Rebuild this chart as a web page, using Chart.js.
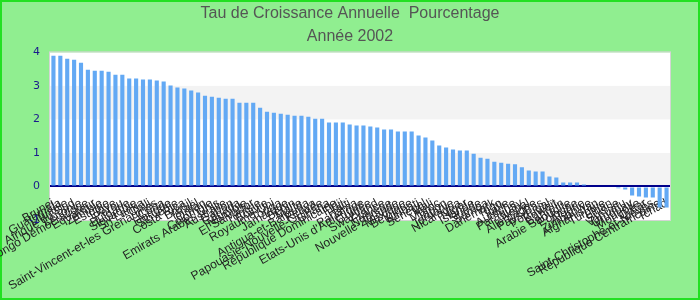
<!DOCTYPE html>
<html>
<head>
<meta charset="utf-8">
<script src="https://cdn.jsdelivr.net/npm/chart.js@4"></script>
<style>
  body { margin: 0; }
  #wrap { width: 700px; height: 300px; }
</style>
</head>
<body>
<div id="wrap"><canvas id="growthChart"></canvas></div>
<script>
// Pays, classés par taux de croissance (Année 2002)
const countries = [
    "Brunei", "Guatemala", "Lituanie", "Afrique du Sud", "Lettonie",
    "Congo Démocratique", "Equateur", "Zambie", "Estonie", "Libye",
    "Pérou", "Bulgarie", "Slovaquie", "Sri Lanka", "Chili",
    "Saint-Vincent-et-les Grenadines", "Cuba", "Hongrie", "Slovénie", "Costa Rica",
    "Brésil", "Israël", "Oman", "Colombie", "Emirats Arabes Unis",
    "Australie", "Gabon", "Canada", "Namibie", "El Salvador",
    "Tunisie", "Bolivie", "Royaume-Uni", "Tonga", "Jamaïque",
    "Bénin", "Malte", "Antigua-et-Barbuda", "Kenya", "Papouasie-Nouvelle-Guinée",
    "Ghana", "République Dominicaine", "Fidji", "Haïti", "Panama",
    "Etats-Unis d'Amérique", "Guinée", "Swaziland", "France", "Norvège",
    "Nouvelle-Zélande", "Mexique", "Belgique", "Kiribati", "Sénégal",
    "Mali", "Maroc", "Japon", "Jordanie", "Nicaragua",
    "Niger", "Islande", "Suède", "Samoa", "Danemark",
    "Togo", "Italie", "Autriche", "Paraguay", "Népal",
    "Allemagne", "Pays-Bas", "Portugal", "Koweït", "Bahreïn",
    "Arabie Saoudite", "Pologne", "Algérie", "Zimbabwe", "Afghanistan",
    "Turquie", "Liban", "Suisse", "Vanuatu", "Uruguay",
    "Mongolie", "Qatar", "Saint-Christophe-et-Niévès", "République Centrafricaine", "Tchad"
];

// Taux de croissance annuelle (%)
const growthRates = [
    3.90, 3.90, 3.81, 3.78, 3.69, 3.48, 3.45, 3.45, 3.42, 3.33,
    3.33, 3.22, 3.22, 3.19, 3.19, 3.16, 3.13, 3.01, 2.95, 2.92,
    2.86, 2.80, 2.71, 2.68, 2.65, 2.62, 2.62, 2.50, 2.50, 2.50,
    2.35, 2.23, 2.20, 2.17, 2.14, 2.11, 2.11, 2.08, 2.02, 2.02,
    1.91, 1.91, 1.91, 1.85, 1.82, 1.82, 1.79, 1.76, 1.70, 1.70,
    1.64, 1.64, 1.64, 1.52, 1.46, 1.37, 1.22, 1.16, 1.10, 1.07,
    1.07, 0.98, 0.86, 0.83, 0.74, 0.71, 0.68, 0.66, 0.57, 0.48,
    0.45, 0.45, 0.30, 0.27, 0.12, 0.12, 0.12, 0.06, 0, 0,
    0, 0, -0.05, -0.09, -0.27, -0.30, -0.33, -0.33, -0.63, -0.63
];

const yTicks = [-1, 0, 1, 2, 3, 4];
const titleLines = ["Tau de Croissance Annuelle  Pourcentage", "Année 2002"];

// Background, alternating bands and plot border
const backgroundPlugin = {
    id: "backgroundPlugin",
    beforeDraw(chart) {
        const ctx = chart.ctx;
        const area = chart.chartArea;
        const y = chart.scales.y;
        ctx.save();
        ctx.fillStyle = "#90ee90";
        ctx.fillRect(0, 0, chart.width, chart.height);
        ctx.strokeStyle = "#22e022";
        ctx.lineWidth = 2;
        ctx.strokeRect(1, 1, chart.width - 2, chart.height - 2);

        ctx.fillStyle = "#ffffff";
        ctx.fillRect(area.left, area.top, area.width, area.height);
        ctx.fillStyle = "#f3f3f3";
        [[3, 2], [1, 0]].forEach(b => {
            const top = y.getPixelForValue(b[0]);
            const bottom = y.getPixelForValue(b[1]);
            ctx.fillRect(area.left, top, area.width, bottom - top);
        });
        ctx.strokeStyle = "#d4d4d4";
        ctx.lineWidth = 1;
        ctx.strokeRect(area.left - 0.5, area.top - 0.5, area.width + 1, area.height + 1);
        ctx.restore();
    }
};

new Chart(document.getElementById("growthChart"), {
    type: "bar",
    data: {
        labels: countries,
        datasets: [{
            data: growthRates,
            backgroundColor: "#63a9f4",
            categoryPercentage: 1,
            barPercentage: 0.6
        }]
    },
    options: {
        responsive: true,
        maintainAspectRatio: false,
        animation: false,
        layout: { padding: 0 },
        plugins: {
            legend: { display: false },
            tooltip: { enabled: false },
            title: {
                display: true,
                text: titleLines,
                color: "#555555",
                font: { family: "Liberation Sans, Arial, sans-serif", size: 16, weight: "normal", lineHeight: 1.45 },
                padding: { top: 2, bottom: 4 }
            }
        },
        scales: {
            x: {
                grid: { display: false, drawTicks: false },
                border: { display: false },
                ticks: {
                    autoSkip: false,
                    minRotation: 30,
                    maxRotation: 30,
                    padding: -24,
                    color: "#222222",
                    font: { family: "Liberation Sans, Arial, sans-serif", size: 12 }
                },
                afterFit(scale) {
                    scale.height = 80;
                    // let the labels run up over the bottom of the plot
                    scale._computeLabelArea = () => undefined;
                }
            },
            y: {
                min: yTicks[0],
                max: yTicks[yTicks.length - 1],
                afterBuildTicks(scale) {
                    scale.ticks = yTicks.map(v => ({ value: v }));
                },
                border: { display: false },
                grid: {
                    drawTicks: false,
                    color: c => c.tick && c.tick.value === 0 ? "#00008b" : "rgba(0,0,0,0)",
                    lineWidth: c => c.tick && c.tick.value === 0 ? 2 : 0
                },
                ticks: {
                    padding: 10,
                    color: "#1a1a8c",
                    font: { family: "DejaVu Sans, sans-serif", size: 11 }
                },
                afterFit(scale) { scale.width = 50; }
            },
            // empty right-hand margin so the title stays centred on the page
            yRight: {
                position: "right",
                grid: { display: false },
                border: { display: false },
                ticks: { display: false },
                afterFit(scale) { scale.width = 30; }
            }
        }
    },
    plugins: [backgroundPlugin]
});
</script>
</body>
</html>
